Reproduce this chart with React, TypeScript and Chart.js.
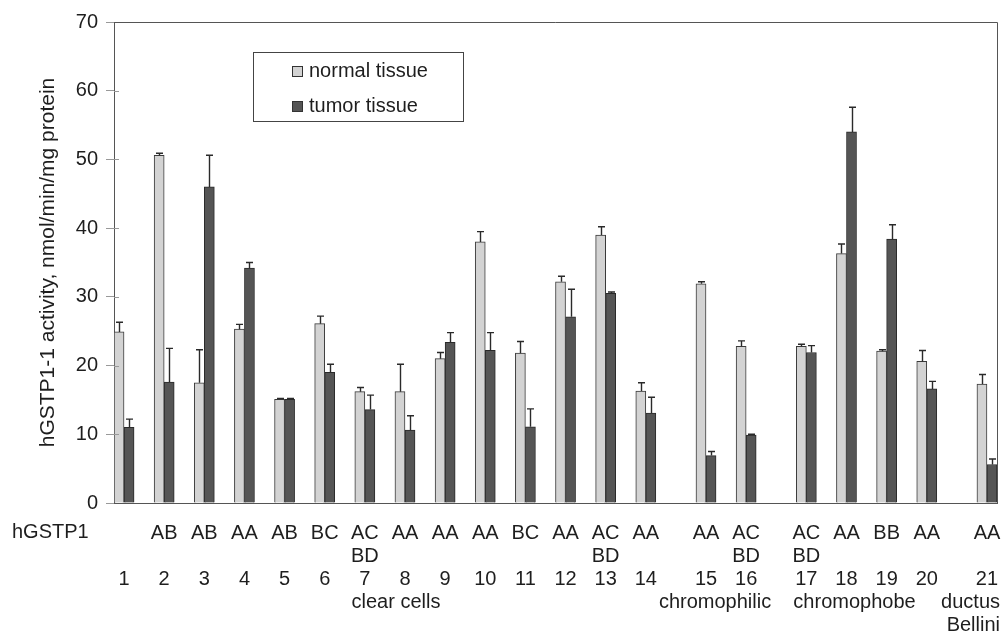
import React, { useEffect, useRef } from "react";
import { Chart, registerables } from "chart.js";

Chart.register(...registerables);

// ---------- data ----------
const groupNumbers = ["1", "2", "3", "4", "5", "6", "7", "8", "9", "10", "11", "12", "13", "14", "15", "16", "17", "18", "19", "20", "21"];
const genotypes: string[][] = [
  [""], ["AB"], ["AB"], ["AA"], ["AB"], ["BC"], ["AC", "BD"], ["AA"], ["AA"], ["AA"], ["BC"],
  ["AA"], ["AC", "BD"], ["AA"], ["AA"], ["AC", "BD"], ["AC", "BD"], ["AA"], ["BB"], ["AA"], ["AA"],
];
const normalTissue = [24.9, 50.6, 17.5, 25.3, 15.1, 26.1, 16.2, 16.2, 21.0, 38.0, 21.8, 32.2, 39.0, 16.3, 31.9, 22.8, 22.8, 36.3, 22.1, 20.6, 17.3];
const tumorTissue = [11.0, 17.6, 46.0, 34.2, 15.1, 19.0, 13.6, 10.6, 23.4, 22.2, 11.1, 27.1, 30.5, 13.1, 6.9, 9.9, 21.9, 54.0, 38.4, 16.6, 5.6];
const normalErr = [1.4, 0.3, 4.8, 0.7, 0.1, 1.1, 0.6, 4.0, 0.9, 1.5, 1.7, 0.8, 1.2, 1.2, 0.3, 0.8, 0.3, 1.4, 0.2, 1.6, 1.4];
const tumorErr = [1.2, 4.9, 4.6, 0.8, 0.1, 1.2, 2.1, 2.1, 1.4, 2.6, 2.6, 4.0, 0.2, 2.3, 0.6, 0.1, 1.0, 3.6, 2.1, 1.1, 0.8];
const seriesNames = ["normal tissue", "tumor tissue"];
const tumorTypes: string[][] = [["clear cells"], ["chromophilic"], ["chromophobe"], ["ductus", "Bellini"]];
const rowLabel = "hGSTP1";
const yTitle = "hGSTP1-1 activity, nmol/min/mg protein";

// ---------- layout (positions on the category axis, incl. spacer slots) ----------
const groupSlots = [0, 2, 4, 6, 8, 10, 12, 14, 16, 18, 20, 22, 24, 26, 29, 31, 34, 36, 38, 40, 43];
const slotCount = 44;
const tumorTypeSlots = [13.55, 29.45, 36.4, 43.65];
const tumorTypeAlign: CanvasTextAlign[] = ["center", "center", "center", "right"];

const FONT = '"Liberation Sans", Arial, Helvetica, sans-serif';
const TEXT = "#1e1e1e";
const normalFill = "#d3d3d3";
const tumorFill = "#555555";

function bySlot(values: number[]) {
  const out: (number | null)[] = new Array(slotCount).fill(null);
  groupSlots.forEach((s, i) => (out[s] = values[i]));
  return out;
}

const errorBarsPlugin = {
  id: "errorBars",
  afterDatasetsDraw(chart: any) {
    const ctx = chart.ctx;
    const y = chart.scales.y;
    ctx.save();
    ctx.strokeStyle = "#2a2a2a";
    ctx.lineWidth = 1.4;
    chart.data.datasets.forEach((ds: any, di: number) => {
      const meta = chart.getDatasetMeta(di);
      meta.data.forEach((bar: any, i: number) => {
        const v = ds.data[i];
        const e = ds.errors[i];
        if (v == null || e == null) return;
        const x = Math.round(bar.x) + 0.5;
        const y0 = y.getPixelForValue(v);
        const y1 = y.getPixelForValue(v + e);
        ctx.beginPath();
        ctx.moveTo(x, y0);
        ctx.lineTo(x, y1);
        ctx.moveTo(x - 3.5, y1);
        ctx.lineTo(x + 3.5, y1);
        ctx.stroke();
      });
    });
    ctx.restore();
  },
};

const decorPlugin = {
  id: "decor",
  afterDraw(chart: any) {
    const { ctx, chartArea } = chart;
    const xs = chart.scales.x;
    const ys = chart.scales.y;
    ctx.save();
    // plot frame (top & right)
    ctx.strokeStyle = "#555";
    ctx.lineWidth = 1;
    ctx.beginPath();
    ctx.moveTo(chartArea.left, chartArea.top + 0.5);
    ctx.lineTo(chartArea.right + 0.5, chartArea.top + 0.5);
    ctx.lineTo(chartArea.right + 0.5, chartArea.bottom);
    ctx.stroke();

    // short inner part of the y tick marks (they cross the axis)
    ctx.strokeStyle = "#999";
    ys.ticks.forEach((t: any) => {
      const py = Math.round(ys.getPixelForValue(t.value)) + 0.5;
      if (t.value <= 0 || t.value >= 70) return;
      ctx.beginPath();
      ctx.moveTo(chartArea.left, py);
      ctx.lineTo(chartArea.left + 5, py);
      ctx.stroke();
    });

    // legend
    const bx = 253, by = 52, bw = 210, bh = 69;
    ctx.strokeStyle = "#444";
    ctx.strokeRect(bx + 0.5, by + 0.5, bw, bh);
    ctx.font = `20px ${FONT}`;
    ctx.textBaseline = "middle";
    ctx.textAlign = "left";
    chart.data.datasets.forEach((ds: any, i: number) => {
      const cy = 71.5 + i * 35;
      ctx.fillStyle = ds.backgroundColor;
      ctx.fillRect(292, cy - 5.5, 11, 11);
      ctx.strokeStyle = "#333";
      ctx.strokeRect(292.5, cy - 5, 10, 10);
      ctx.fillStyle = TEXT;
      ctx.fillText(ds.label, 309, cy);
    });

    // row label
    ctx.fillStyle = TEXT;
    ctx.textAlign = "left";
    ctx.fillText(rowLabel, 12, chartArea.bottom + 29);

    // tumor type labels
    tumorTypes.forEach((lines, i) => {
      const px = xs.getPixelForValue(tumorTypeSlots[i]);
      ctx.textAlign = tumorTypeAlign[i];
      lines.forEach((t, li) => {
        ctx.fillText(t, px, chartArea.bottom + 99.5 + li * 23);
      });
    });
    ctx.restore();
  },
};

export default function App() {
  const ref = useRef<HTMLCanvasElement>(null);
  useEffect(() => {
    const canvas = ref.current;
    if (!canvas) return;
    Chart.defaults.font.family = FONT;
    const labels: (string | string[])[] = new Array(slotCount).fill("");
    groupSlots.forEach((s, i) => {
      labels[s] = [genotypes[i][0] || "", genotypes[i][1] || "", groupNumbers[i]];
    });
    const chart = new Chart(canvas, {
      type: "bar",
      data: {
        labels,
        datasets: [
          {
            label: seriesNames[0],
            data: bySlot(normalTissue),
            errors: bySlot(normalErr),
            backgroundColor: normalFill,
            borderColor: "#3a3a3a",
            borderWidth: 1,
            categoryPercentage: 1,
            barPercentage: 1,
          } as any,
          {
            label: seriesNames[1],
            data: bySlot(tumorTissue),
            errors: bySlot(tumorErr),
            backgroundColor: tumorFill,
            borderColor: "#2a2a2a",
            borderWidth: 1,
            categoryPercentage: 1,
            barPercentage: 1,
          } as any,
        ],
      },
      options: {
        responsive: false,
        animation: false,
        layout: { padding: { top: 22, right: 5, left: 0, bottom: 0 } },
        plugins: { legend: { display: false }, tooltip: { enabled: false } },
        scales: {
          x: {
            type: "category",
            offset: true,
            grid: { display: false },
            border: { display: true, color: "#555", width: 1 },
            ticks: {
              autoSkip: false,
              maxRotation: 0,
              minRotation: 0,
              padding: 10.5,
              color: TEXT,
              font: { size: 20, lineHeight: 1.15 },
            },
            afterFit: (s: any) => {
              s.height = 132;
              s.paddingLeft = 0;
              s.paddingRight = 0;
            },
          },
          y: {
            min: 0,
            max: 70,
            ticks: { stepSize: 10, padding: 8, color: TEXT, font: { size: 20 } },
            grid: { drawOnChartArea: false, drawTicks: true, tickLength: 8, color: "#999" },
            border: { display: true, color: "#555", width: 1 },
            title: {
              display: true,
              text: yTitle,
              color: TEXT,
              font: { size: 21 },
              padding: { top: 35.4, bottom: 0 },
            },
            afterFit: (s: any) => {
              s.width = 114;
              s.paddingTop = 0;
              s.paddingBottom = 0;
            },
          },
        },
      } as any,
      plugins: [errorBarsPlugin, decorPlugin],
    });
    return () => chart.destroy();
  }, []);
  return (
    <div style={{ position: "fixed", left: 0, top: 0, width: 1002, height: 635, background: "#fff" }}>
      <canvas ref={ref} width={1002} height={635} style={{ display: "block" }} />
    </div>
  );
}
